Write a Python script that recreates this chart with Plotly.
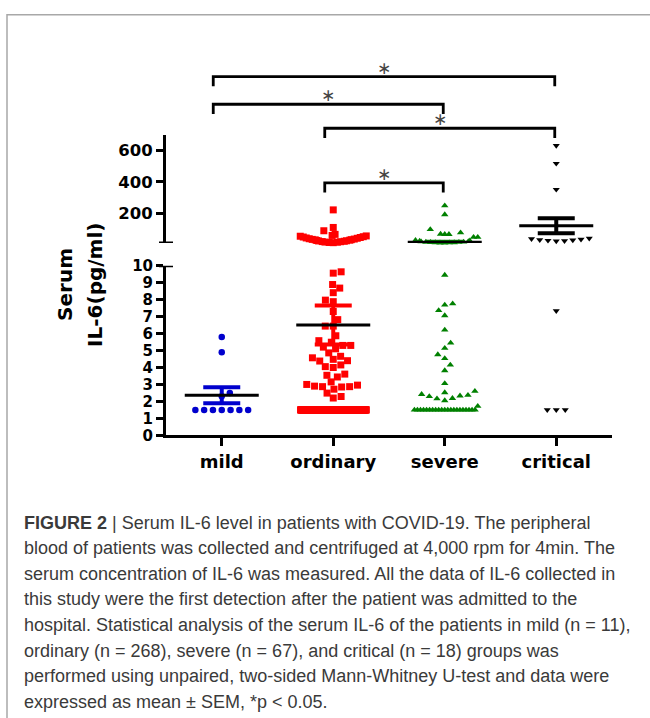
import math
import plotly.graph_objects as go

# ---------------- data ----------------
categories = ["mild", "ordinary", "severe", "critical"]
group_colors = ["#0000CD", "#FF0000", "#008000", "#000000"]
group_symbols = ["circle", "square", "triangle-up", "triangle-down"]

floor_value = 1.5                      # values at detection floor
floor_counts = [7, 200, 21, 3]         # number of points at the floor per group

mild_values = [2.3, 2.5, 4.9, 5.8]
ordinary_values = [9.56, 9.64, 8.89, 8.68, 8.41, 7.97, 7.88, 7.3, 6.82, 6.44, 6.44,
                   5.87, 5.58, 5.49, 5.3, 5.3, 5.2, 5.1, 4.86, 4.66, 4.57, 4.48, 4.4,
                   4.38, 4.15, 4.05, 4.0, 3.61, 3.54, 3.44, 3.15, 3.0, 2.96, 2.9, 2.87,
                   2.87, 2.85, 2.72, 2.49, 2.29, 2.2,
                   221, 109, 88, 65,
                   12, 13, 15, 16, 18, 19, 21, 23, 24, 26, 28, 30, 31, 33, 35, 37,
                   40, 42, 45, 48, 50, 53, 55, 58]
severe_values = [9.45, 7.76, 7.69, 7.36, 7.06, 6.21, 5.45, 5.14, 4.76, 4.53, 4.15,
                 3.82, 3.06, 2.6, 2.52, 2.42, 2.37, 2.33, 2.29, 2.18, 2.16, 2.05, 1.72,
                 247.6, 191.6, 96.4, 75.9, 67.2, 65.3, 65.3, 46.7, 46.7,
                 10.5, 11, 12, 12.5, 13, 14, 15, 16, 17, 18, 20, 22, 24, 27]
critical_values = [7.34, 22, 24, 26, 28, 30, 33, 36, 40, 351, 517, 631]

group_means = [2.36, 6.5, 14, 120]
group_sems = [0.47, 1.15, 4, 48]

lower_range = [0, 10]
upper_range = [10, 700]
lower_ticks = list(range(0, 11))
upper_ticks = [200, 400, 600]

bracket_pairs = [(0, 3), (0, 2), (1, 3), (1, 2)]
bracket_labels = ["∗", "∗", "∗", "∗"]

caption_lines = [
    "<b>FIGURE 2</b> | Serum IL-6 level in patients with COVID-19. The peripheral",
    "blood of patients was collected and centrifuged at 4,000 rpm for 4min. The",
    "serum concentration of IL-6 was measured. All the data of IL-6 collected in",
    "this study were the first detection after the patient was admitted to the",
    "hospital. Statistical analysis of the serum IL-6 of the patients in mild (n = 11),",
    "ordinary (n = 268), severe (n = 67), and critical (n = 18) groups was",
    "performed using unpaired, two-sided Mann-Whitney U-test and data were",
    "expressed as mean ± SEM, *p < 0.05.",
]

# ---------------- layout geometry (pixels) ----------------
W, H = 650, 718
PL, PR = 166, 612
LOW_BOT, LOW_TOP = 437.3, 263.3
UP_BOT, UP_TOP = 240.0, 129.0
BRACKET_Y = [69.3, 97.7, 122.3, 178.3]
BRACKET_DROP = 10
CAPTION_Y0, CAPTION_DY, CAPTION_X = 527, 26.2, 22
AXFONT = "DejaVu Sans"
HALF_WIDTH = 33.0


def px_x(xd):
    return PL + (xd - (-0.5)) / 4.0 * (PR - PL)


def val_py(v):
    if v <= lower_range[1]:
        return LOW_BOT - (v - lower_range[0]) / (lower_range[1] - lower_range[0]) * (LOW_BOT - LOW_TOP)
    return UP_BOT - (v - upper_range[0]) / (upper_range[1] - upper_range[0]) * (UP_BOT - UP_TOP)


def paper_x(px):
    return px / W


def paper_y(py):
    return 1 - py / H


def swarm(vals, D, wmax):
    """Beeswarm in pixel space; crowded rows are squeezed to the column width."""
    n = len(vals)
    pys = [val_py(v) for v in vals]
    order = sorted(range(n), key=lambda i: vals[i])
    xs = [0.0] * n
    placed = []
    vmin = vals[order[0]]
    row = [i for i in order if vals[i] == vmin]
    for k, i in enumerate(row):
        step = (k + 1) // 2
        xs[i] = step * D * (1 if k % 2 == 1 else -1) if k else 0.0
        placed.append(i)
    rowset = set(row)
    side = 1
    for i in order:
        if i in rowset:
            continue
        iv = []
        for j in placed:
            dy = pys[i] - pys[j]
            if abs(dy) < D:
                w = math.sqrt(D * D - dy * dy)
                iv.append((xs[j] - w, xs[j] + w))
        cands = [0.0] + [a for a, b in iv] + [b for a, b in iv]
        best = 0.0
        for c in sorted(cands, key=lambda c: (round(abs(c), 6), -c * side)):
            if all(not (a + 1e-7 < c < b - 1e-7) for a, b in iv):
                best = c
                break
        if best != 0:
            side = -side
        xs[i] = best
        placed.append(i)
    out = []
    for i in range(n):
        local = max(abs(xs[j]) for j in range(n) if abs(pys[j] - pys[i]) <= D / 2)
        f = min(1.0, wmax / local) if local > 0 else 1.0
        out.append(xs[i] * f)
    return out


fig = go.Figure()

group_values = [mild_values, ordinary_values, severe_values, critical_values]
marker_sizes = [6.5, 7, 6.5, 6.2]
swarm_D = [8.8, 8.0, 8.0, 9.0]
px_per_unit = (PR - PL) / 4.0

for g, cat in enumerate(categories):
    vals = [floor_value] * floor_counts[g] + group_values[g]
    offs = swarm(vals, swarm_D[g], HALF_WIDTH)
    for axis, test in (("y", lambda v: v <= lower_range[1]), ("y2", lambda v: v > lower_range[1])):
        xs = [g + o / px_per_unit for v, o in zip(vals, offs) if test(v)]
        ys = [v for v in vals if test(v)]
        fig.add_trace(go.Scatter(
            x=xs, y=ys, mode="markers", yaxis=axis, cliponaxis=False,
            marker=dict(symbol=group_symbols[g], size=marker_sizes[g],
                        color=group_colors[g], line=dict(width=0)),
            hoverinfo="skip", showlegend=False))

# mean and SEM
mean_half = 37 / px_per_unit
cap_half = 18.5 / px_per_unit
for g in range(len(categories)):
    m, s = group_means[g], group_sems[g]
    axis = "y" if m <= lower_range[1] else "y2"
    lo, hi = m - s, m + s
    fig.add_trace(go.Scatter(
        x=[g, g, None, g - cap_half, g + cap_half, None, g - cap_half, g + cap_half],
        y=[lo, hi, None, hi, hi, None, lo, lo],
        mode="lines", yaxis=axis, cliponaxis=False,
        line=dict(color=group_colors[g], width=4),
        hoverinfo="skip", showlegend=False))
    fig.add_trace(go.Scatter(
        x=[g - mean_half, g + mean_half], y=[m, m], mode="lines", yaxis=axis,
        cliponaxis=False, line=dict(color="black", width=3),
        hoverinfo="skip", showlegend=False))

shapes = []
annotations = []

# broken-axis caps
for yref in ("y", "y2"):
    shapes.append(dict(type="line", xref="paper", yref=yref,
                       x0=paper_x(PL - 7), x1=paper_x(PL + 7), y0=10, y1=10,
                       line=dict(color="black", width=3)))

# significance brackets
for k, (a, b) in enumerate(bracket_pairs):
    x0 = paper_x(px_x(a) - 8.5)
    x1 = paper_x(px_x(b) - 1.5)
    yt = paper_y(BRACKET_Y[k])
    yb = paper_y(BRACKET_Y[k] + BRACKET_DROP)
    shapes.append(dict(type="path", xref="paper", yref="paper",
                       path=f"M {x0} {yb} L {x0} {yt} L {x1} {yt} L {x1} {yb}",
                       line=dict(color="black", width=2.8)))
    annotations.append(dict(x=(x0 + x1) / 2, y=paper_y(BRACKET_Y[k] - 9),
                            xref="paper", yref="paper", text=bracket_labels[k],
                            showarrow=False, xanchor="center", yanchor="middle",
                            font=dict(family=AXFONT, size=17, color="#444444")))

# y-axis title (two rotated lines)
for txt, xp in (("Serum", 65), ("IL-6(pg/ml)", 95)):
    annotations.append(dict(x=paper_x(xp), y=paper_y(283), xref="paper", yref="paper",
                            text=txt, textangle=-90, showarrow=False,
                            xanchor="center", yanchor="middle",
                            font=dict(family=AXFONT, size=20, color="black", weight="bold")))

# caption
for i, line in enumerate(caption_lines):
    annotations.append(dict(x=paper_x(CAPTION_X), y=paper_y(CAPTION_Y0 + i * CAPTION_DY),
                            xref="paper", yref="paper", text=line, showarrow=False,
                            xanchor="left", yanchor="middle",
                            font=dict(family="Liberation Sans, Arial", size=18, color="#3a3a3a")))

# frame
shapes.append(dict(type="rect", xref="paper", yref="paper",
                   x0=paper_x(7), x1=1.05, y0=-0.05, y1=paper_y(6),
                   line=dict(color="#a8a8a8", width=1.5), fillcolor="rgba(0,0,0,0)"))

axis_common = dict(showline=True, linecolor="black", linewidth=3, ticks="outside",
                   tickcolor="black", tickwidth=2.5, ticklen=7, showgrid=False,
                   zeroline=False, fixedrange=True)

fig.update_layout(
    width=W, height=H, margin=dict(l=0, r=0, t=0, b=0),
    paper_bgcolor="white", plot_bgcolor="white", showlegend=False,
    xaxis=dict(domain=[paper_x(PL), paper_x(PR)], range=[-0.5, 3.5],
               tickvals=list(range(len(categories))), ticktext=categories,
               anchor="y", **{**axis_common, "ticklen": 8, "tickwidth": 3},
               tickfont=dict(family=AXFONT, size=18, color="black", weight="bold")),
    yaxis=dict(domain=[paper_y(LOW_BOT), paper_y(LOW_TOP)], range=lower_range,
               tickvals=lower_ticks, anchor="x", **axis_common,
               tickfont=dict(family=AXFONT, size=15, color="black", weight="bold")),
    yaxis2=dict(domain=[paper_y(UP_BOT), paper_y(UP_TOP)], range=upper_range,
                tickvals=upper_ticks, anchor="x", **axis_common,
                tickfont=dict(family=AXFONT, size=16.5, color="black", weight="bold")),
    shapes=shapes, annotations=annotations,
)

fig.write_html("out.html", config={"displayModeBar": False},
               post_script=("document.documentElement.style.margin='0px';"
                            "document.body.style.margin='0px';"
                            "document.body.style.overflow='hidden';"
                            "document.documentElement.style.overflow='hidden';"))
